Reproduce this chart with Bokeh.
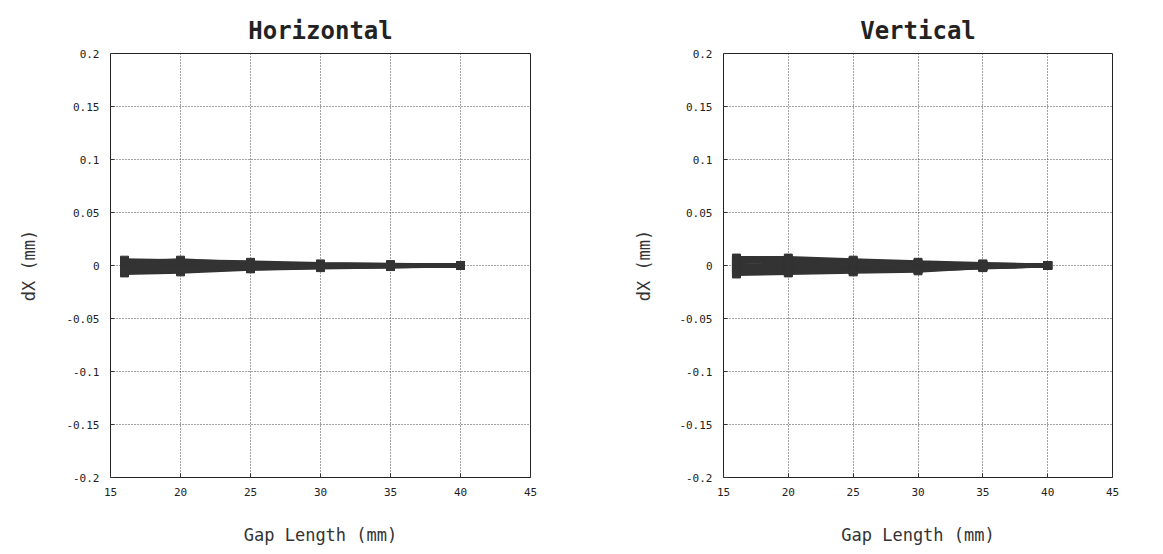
from bokeh.plotting import figure
from bokeh.layouts import row
from bokeh.models import FixedTicker, Title
from bokeh.embed import file_html
from bokeh.resources import INLINE

gap = [16, 20, 25, 30, 35, 40]

horizontal = {
    "h1": [0.005, 0.004, 0.003, 0.0015, 0.0008, 0.0],
    "h2": [0.003, 0.005, 0.002, 0.001, 0.0005, 0.0],
    "h3": [0.001, 0.002, 0.001, 0.0005, 0.0002, 0.0],
    "h4": [-0.001, -0.001, 0.0, -0.0005, -0.0003, 0.0],
    "h5": [-0.003, -0.002, -0.002, -0.001, -0.0005, 0.0],
    "h6": [-0.005, -0.004, -0.003, -0.0015, -0.0008, 0.0],
    "h7": [-0.007, -0.006, -0.003, -0.002, -0.001, 0.0],
    "h8": [-0.004, -0.005, -0.002, -0.001, -0.0006, 0.0],
}
vertical = {
    "v1": [0.007, 0.007, 0.005, 0.003, 0.0015, 0.0],
    "v2": [0.005, 0.004, 0.004, 0.002, 0.001, 0.0],
    "v3": [0.003, 0.005, 0.002, 0.001, 0.0005, 0.0],
    "v4": [0.0, 0.001, 0.0, 0.0, 0.0, 0.0],
    "v5": [-0.002, -0.002, -0.003, -0.002, -0.001, 0.0],
    "v6": [-0.004, -0.004, -0.004, -0.003, -0.0015, 0.0],
    "v7": [-0.007, -0.006, -0.005, -0.004, -0.002, 0.0],
    "v8": [-0.008, -0.007, -0.006, -0.005, -0.0015, 0.0],
}

x_ticks = [15, 20, 25, 30, 35, 40, 45]
y_ticks = [-0.2, -0.15, -0.1, -0.05, 0, 0.05, 0.1, 0.15, 0.2]
y_tick_labels = ["-0.2", "-0.15", "-0.1", "-0.05", "0", "0.05", "0.1", "0.15", "0.2"]

FONT = "DejaVu Sans Mono"
INK = "#333333"


def make_panel(title, series, width, left, right, ylab_standoff):
    p = figure(width=width, height=554, x_range=(15, 45), y_range=(-0.2, 0.2),
               output_backend="svg", toolbar_location=None,
               min_border_left=left, min_border_right=right,
               min_border_top=53, min_border_bottom=77)
    p.title = Title(text=title, align="center", text_font=FONT, text_font_size="24px",
                    text_font_style="bold", text_color="#222222", standoff=18)
    for ys in series.values():
        p.line(gap, ys, line_color=INK, line_width=4)
        p.scatter(gap, ys, marker="square", size=8, fill_color=INK, line_color=INK)
    p.xaxis.ticker = FixedTicker(ticks=x_ticks)
    p.yaxis.ticker = FixedTicker(ticks=y_ticks)
    p.yaxis.major_label_overrides = {t: l for t, l in zip(y_ticks, y_tick_labels)}
    p.xaxis.axis_label = "Gap Length (mm)"
    p.yaxis.axis_label = "dX (mm)"
    for ax in (p.xaxis, p.yaxis):
        ax.major_label_text_font = FONT
        ax.major_label_text_font_size = "11px"
        ax.major_label_text_color = "#222222"
        ax.axis_label_text_font = FONT
        ax.axis_label_text_font_size = "17px"
        ax.axis_label_text_font_style = "normal"
        ax.axis_label_text_color = "#333333"
        ax.axis_line_color = None
        ax.major_tick_line_color = "#333333"
        ax.major_tick_out = 0
        ax.major_tick_in = 4
        ax.minor_tick_line_color = None
    p.xaxis.major_label_standoff = 10
    p.yaxis.major_label_standoff = 11
    p.xaxis.axis_label_standoff = 26
    p.yaxis.axis_label_standoff = ylab_standoff
    p.grid.grid_line_color = "#444444"
    p.grid.grid_line_dash = "1 2"
    p.grid.grid_line_width = 1
    p.outline_line_color = "#222222"
    p.outline_line_width = 1
    p.background_fill_color = "white"
    p.border_fill_color = "white"
    return p


p1 = make_panel("Horizontal", horizontal, 600, 110, 70, 24)
p2 = make_panel("Vertical", vertical, 563, 123, 51, 22)

layout = row(p1, p2)
open("out.html", "w").write(file_html(layout, INLINE))
